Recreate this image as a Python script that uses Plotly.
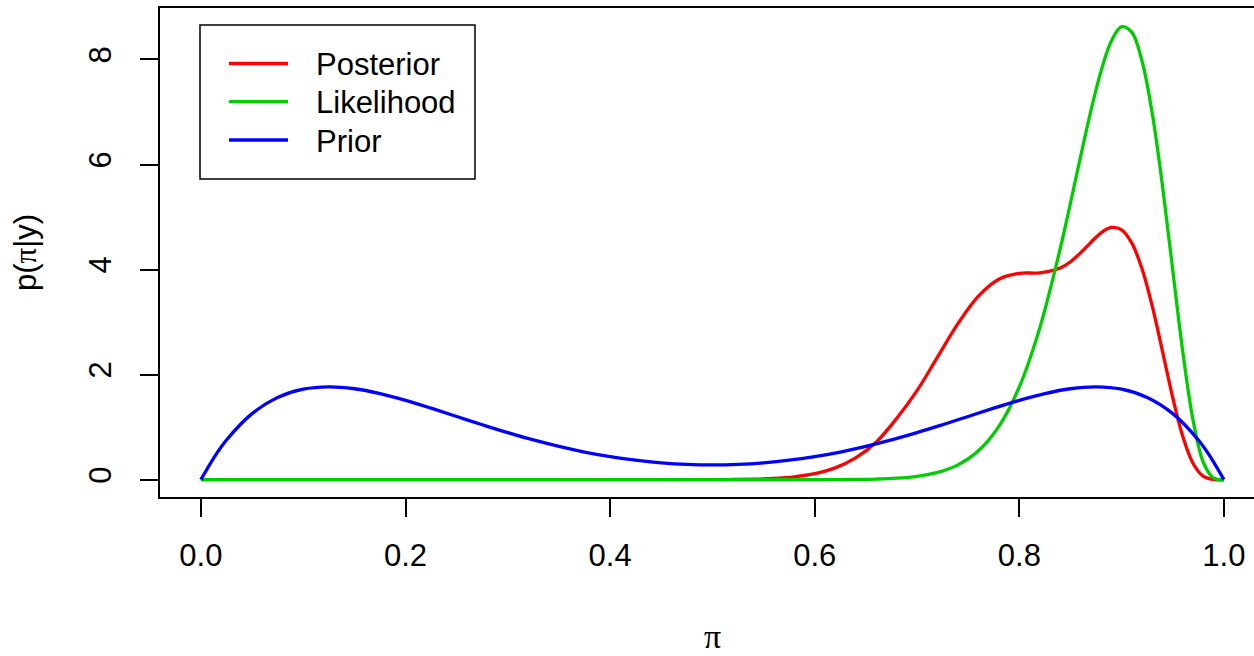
import plotly.graph_objects as go

# ---- data ----
x_prior = [0.0, 0.0125, 0.025, 0.05, 0.075, 0.1, 0.125, 0.15, 0.175, 0.2, 0.225, 0.25,
           0.275, 0.3, 0.325, 0.35, 0.375, 0.4, 0.425, 0.45, 0.475, 0.5,
           0.525, 0.55, 0.575, 0.6, 0.625, 0.65, 0.675, 0.7, 0.725, 0.75,
           0.775, 0.8, 0.825, 0.85, 0.875, 0.9, 0.925, 0.95, 0.975, 0.9875, 1.0]
prior = [0.0, 0.412, 0.754, 1.257, 1.564, 1.722, 1.767, 1.731, 1.639, 1.510, 1.361, 1.203,
         1.046, 0.895, 0.756, 0.633, 0.526, 0.439, 0.370, 0.321, 0.291, 0.281,
         0.291, 0.321, 0.370, 0.439, 0.526, 0.633, 0.756, 0.895, 1.046, 1.203,
         1.361, 1.510, 1.639, 1.731, 1.767, 1.722, 1.564, 1.257, 0.754, 0.412, 0.0]

x_lp = [0.0, 0.1, 0.2, 0.3, 0.4, 0.5, 0.52, 0.54, 0.56, 0.58, 0.60, 0.62, 0.64, 0.66,
        0.68, 0.70, 0.72, 0.74, 0.76, 0.78, 0.80, 0.82, 0.84, 0.85, 0.86, 0.87, 0.88,
        0.89, 0.90, 0.91, 0.92, 0.93, 0.94, 0.95, 0.96, 0.97, 0.98, 0.99, 1.0]
posterior = [0, 0, 0, 0, 0, 0.001, 0.004, 0.010, 0.024, 0.054, 0.114, 0.225, 0.414, 0.713,
             1.163, 1.694, 2.333, 2.970, 3.495, 3.817, 3.929, 3.939, 4.029, 4.149, 4.320,
             4.519, 4.700, 4.802, 4.756, 4.503, 4.011, 3.298, 2.438, 1.560, 0.810, 0.303,
             0.063, 0.003, 0]
likelihood = [0, 0, 0, 0, 0, 0, 0, 0, 0.0001, 0.0002, 0.0007, 0.0019, 0.0048, 0.0120,
              0.0283, 0.0640, 0.1376, 0.2820, 0.5491, 1.0137, 1.7667, 2.8902, 4.4012,
              5.2675, 6.1615, 7.0266, 7.7863, 8.3511, 8.6240, 8.5161, 7.9659, 6.9664,
              5.5856, 3.9847, 2.4044, 1.1163, 0.3223, 0.0293, 0]

series_names = ["Posterior", "Likelihood", "Prior"]
series_colors = ["#FF0000", "#00CD00", "#0000FF"]

x_ticks = [0.0, 0.2, 0.4, 0.6, 0.8, 1.0]
x_tick_labels = ["0.0", "0.2", "0.4", "0.6", "0.8", "1.0"]
y_ticks = [0, 2, 4, 6, 8]
y_tick_labels = ["0", "2", "4", "6", "8"]
x_title = "π"
y_title = 'p(<span style="font-family:Liberation Serif">π</span>|y)'

FONT = "Liberation Sans, Arial, Helvetica, sans-serif"
SERIF = "Liberation Serif, Times New Roman, serif"
FS = 31
LW = 3.3

fig = go.Figure()
for xs, ys, nm, col in zip([x_lp, x_lp, x_prior], [posterior, likelihood, prior],
                           series_names, series_colors):
    fig.add_trace(go.Scatter(x=xs, y=ys, mode="lines", name=nm, showlegend=False,
                             line=dict(color=col, width=LW, shape="spline")))

# ---- legend box drawn in plot-area (paper) coordinates ----
PLOT_L, PLOT_T, PLOT_W, PLOT_H = 160, 8, 1094, 489


def px(xp):
    return (xp - PLOT_L) / PLOT_W


def py(yp):
    return 1 - (yp - PLOT_T) / PLOT_H


shapes = [dict(type="rect", xref="paper", yref="paper",
               x0=px(200), x1=px(475), y0=py(179), y1=py(25),
               line=dict(color="black", width=1.5), fillcolor="white", layer="above")]
annotations = []
row_y = [63.5, 101.7, 140.0]
for nm, col, ry in zip(series_names, series_colors, row_y):
    shapes.append(dict(type="line", xref="paper", yref="paper",
                       x0=px(229), x1=px(288), y0=py(ry), y1=py(ry),
                       line=dict(color=col, width=LW), layer="above"))
    annotations.append(dict(xref="paper", yref="paper", x=px(314), y=py(ry + 1),
                            xanchor="left", yanchor="middle", text=nm, showarrow=False,
                            font=dict(family=FONT, size=FS, color="black")))

# x-axis title placed below the tick labels, kept inside the page
annotations.append(dict(xref="paper", yref="paper", x=px(712), y=py(655.5),
                        xanchor="center", yanchor="bottom", text=x_title, showarrow=False,
                        borderpad=0,
                        font=dict(family=SERIF, size=34, color="black")))

fig.update_layout(
    width=1254, height=656,
    margin=dict(l=160, r=0, t=8, b=159, autoexpand=False),
    paper_bgcolor="white", plot_bgcolor="white",
    font=dict(family=FONT, size=FS, color="black"),
    showlegend=False,
    shapes=shapes,
    annotations=annotations,
    xaxis=dict(range=[-0.04, 1.0294], tickvals=x_ticks, ticktext=x_tick_labels,
               automargin=False,
               showgrid=False, zeroline=False, showline=True, linecolor="black",
               linewidth=2, mirror=True, ticks="outside", ticklen=18, tickwidth=1.5,
               tickcolor="black", ticklabelstandoff=12),
    yaxis=dict(range=[-0.33, 8.98], tickvals=y_ticks, ticktext=y_tick_labels,
               automargin=False,
               showgrid=False, zeroline=False, showline=True, linecolor="black",
               linewidth=2, mirror=False, ticks="outside", ticklen=18, tickwidth=1.5,
               tickcolor="black", tickangle=-90, ticklabelstandoff=17,
               title=dict(text=y_title, font=dict(family=FONT, size=FS), standoff=37)),
)

fig.write_html("out.html")
